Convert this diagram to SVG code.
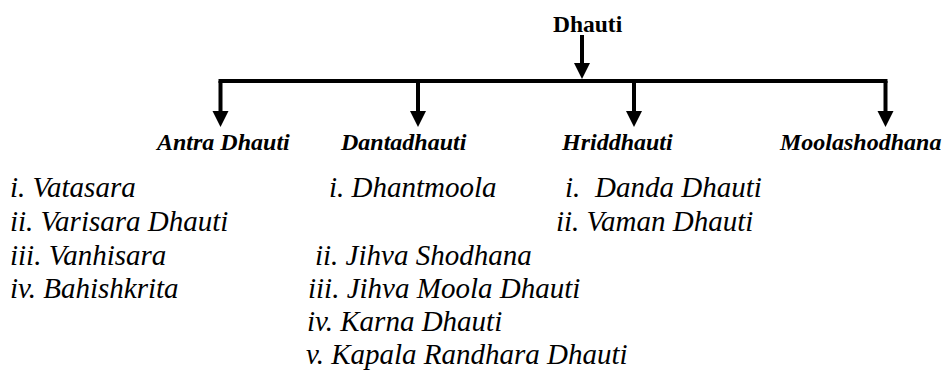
<svg xmlns="http://www.w3.org/2000/svg" width="944" height="372" viewBox="0 0 944 372">
  <defs>
    <style>
      text { font-family: 'Liberation Serif', 'Times New Roman', serif; fill: #000; }
      .root { font-weight: bold; font-size: 23.5px; }
      .head { font-weight: bold; font-style: italic; font-size: 24px; }
      .item { font-style: italic; font-size: 29px; }
      .wire { stroke: #000; stroke-width: 4; fill: none; }
      .tip { fill: #000; }
    </style>
  </defs>

  <rect width="944" height="372" fill="#fff"/>

  <!-- root node -->
  <g id="dhauti">
    <text class="root" x="553" y="32">Dhauti</text>
  </g>

  <!-- Antra Dhauti and its kinds -->
  <g id="antra-dhauti">
    <text class="head" x="157" y="150">Antra Dhauti</text>
    <text class="item" x="10" y="197">i. Vatasara</text>
    <text class="item" x="10" y="231">ii. Varisara Dhauti</text>
    <text class="item" x="10" y="265">iii. Vanhisara</text>
    <text class="item" x="10" y="298">iv. Bahishkrita</text>
  </g>

  <!-- Dantadhauti and its kinds -->
  <g id="dantadhauti">
    <text class="head" x="341" y="150">Dantadhauti</text>
    <text class="item" x="329" y="197">i. Dhantmoola</text>
    <text class="item" x="315" y="265">ii. Jihva Shodhana</text>
    <text class="item" x="308" y="298">iii. Jihva Moola Dhauti</text>
    <text class="item" x="307" y="331">iv. Karna Dhauti</text>
    <text class="item" x="306" y="364">v. Kapala Randhara Dhauti</text>
  </g>

  <!-- Hriddhauti and its kinds -->
  <g id="hriddhauti">
    <text class="head" x="562" y="150">Hriddhauti</text>
    <text class="item" x="565" y="197">i.</text>
    <text class="item" x="595" y="197">Danda Dhauti</text>
    <text class="item" x="556" y="231">ii. Vaman Dhauti</text>
  </g>

  <!-- Moolashodhana -->
  <g id="moolashodhana">
    <text class="head" x="780" y="150">Moolashodhana</text>
  </g>

  <!-- connectors: trunk, bar and four drops -->
  <g id="connectors">
    <line class="wire" x1="582" y1="35" x2="582" y2="64" />
    <path class="tip" d="M574,63 L590,63 L582,79 Z"/>
    <line class="wire" x1="218.5" y1="81" x2="887.5" y2="81" />
    <line class="wire" x1="220.5" y1="81" x2="220.5" y2="112" />
    <path class="tip" d="M212.5,111 L228.5,111 L220.5,127 Z"/>
    <line class="wire" x1="418" y1="81" x2="418" y2="112" />
    <path class="tip" d="M410,111 L426,111 L418,127 Z"/>
    <line class="wire" x1="634" y1="81" x2="634" y2="112" />
    <path class="tip" d="M626,111 L642,111 L634,127 Z"/>
    <line class="wire" x1="885.5" y1="81" x2="885.5" y2="112" />
    <path class="tip" d="M877.5,111 L893.5,111 L885.5,127 Z"/>
  </g>
</svg>
